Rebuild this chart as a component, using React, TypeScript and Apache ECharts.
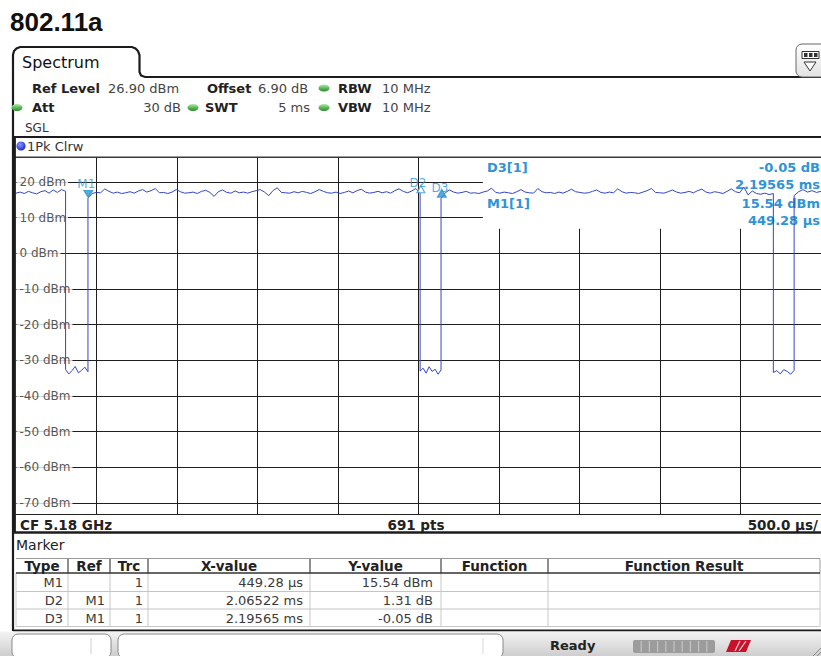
import React, { useEffect, useRef } from "react";
import * as echarts from "echarts";

// ---------- axis values ----------
const SWEEP_START_US = 0;
const SWEEP_END_US = 5000;
const REF_LEVEL_DBM = 26.9;
const BOTTOM_LEVEL_DBM = -73.1;
const xGridUs = [500, 1000, 1500, 2000, 2500, 3000, 3500, 4000, 4500];
const yTickDbm = [20, 10, 0, -10, -20, -30, -40, -50, -60, -70];

// the marker-info box hides the grid right of this time and above this level
const INFO_BOX_LEFT_US = 2900;
const INFO_BOX_BOTTOM_DBM = 6.9;

// ---------- trace (1Pk Clrw) ----------
// segment edges in µs: burst | gap | burst | gap | burst | gap | burst
const segmentEdgesUs = [0, 308, 447, 2510, 2640, 4704, 4833, 5000];
const burst1 = [16.9, 17.2, 16.8, 17.4, 17.0, 16.7, 17.3, 17.6, 16.9, 17.8, 17.1, 17.9, 17.4];
const gap1 = [-32.6, -33.8, -32.9, -31.7, -33.5, -32.8, -31.9, -33.2];
const burst2 = [
  15.5, 16.8, 17.1, 17.0, 18.1, 17.4, 16.9, 17.2, 16.8, 17.0,
  17.3, 16.9, 17.5, 17.9, 17.2, 17.6, 18.2, 17.0, 17.1, 16.8,
  17.2, 17.9, 17.3, 16.9, 17.0, 17.2, 16.8, 17.4, 17.7, 17.1,
  16.0, 17.3, 17.8, 17.1, 16.9, 17.5, 17.0, 17.2, 16.9, 17.3,
  17.6, 17.9, 17.2, 16.2, 17.6, 18.4, 17.1, 17.0, 16.9, 17.3,
  17.0, 17.4, 17.1, 16.8, 17.3, 17.9, 17.4, 17.0, 16.9, 17.2,
  16.8, 17.1, 17.5, 17.0, 17.6, 18.0, 17.2, 16.9, 17.1, 17.4,
  17.0, 17.3, 16.9, 17.6, 18.1, 17.4, 17.0, 17.5, 18.2, 16.9,
];
const gap2 = [-33.0, -32.2, -33.6, -31.8, -33.1, -32.5, -33.9, -32.7];
const burst3 = [
  15.5, 17.0, 17.8, 17.2, 16.9, 17.1, 17.4, 16.9, 17.0, 16.8,
  17.2, 17.5, 18.3, 17.1, 16.9, 17.2, 17.0, 16.8, 17.3, 17.9,
  17.2, 17.0, 16.9, 18.2, 17.3, 17.0, 17.1, 16.8, 17.2, 16.9,
  17.4, 18.0, 17.3, 17.1, 16.9, 17.0, 17.4, 17.8, 17.1, 16.9,
  17.2, 17.0, 18.1, 17.3, 16.9, 17.1, 17.0, 16.8, 17.2, 17.6,
  18.2, 17.1, 17.0, 16.9, 17.3, 17.8, 17.2, 16.9, 17.1, 17.4,
  17.0, 17.6, 18.0, 17.2, 16.9, 17.3, 17.1, 16.8, 17.4, 18.1,
  17.3, 17.0, 18.6, 16.4, 17.5, 16.8, 16.6, 16.9, 16.5, 16.8,
];
const gap3 = [-33.4, -32.9, -33.8, -32.6, -33.1, -33.9, -32.8];
const burst4 = [16.2, 17.3, 17.9, 17.2, 17.6, 17.1, 17.4];
const traceSegments = [burst1, gap1, burst2, gap2, burst3, gap3, burst4];

// ---------- markers ----------
const markerType = ["M1", "D2", "D3"];
const markerRef = ["", "M1", "M1"];
const markerTrc = ["1", "1", "1"];
const markerXText = ["449.28 µs", "2.06522 ms", "2.19565 ms"];
const markerYText = ["15.54 dBm", "1.31 dB", "-0.05 dB"];
const m1XUs = 449.28;
const m1YDbm = 15.54;
const deltaXUs = [0, 2065.22, 2195.65];
const deltaYDb = [0, 1.31, -0.05];
const tableHeader = ["Type", "Ref", "Trc", "X-value", "Y-value", "Function", "Function Result"];

// ---------- build trace points (sweep samples evenly spaced within each segment) ----------
const traceData: number[][] = [];
traceSegments.forEach((vals, k) => {
  const t0 = segmentEdgesUs[k];
  const t1 = segmentEdgesUs[k + 1];
  vals.forEach((v, i) => {
    traceData.push([t0 + (i * (t1 - t0)) / (vals.length - 1), v]);
  });
});

const markerPoints = markerType.map((_, i) => [m1XUs + deltaXUs[i], m1YDbm + deltaYDb[i]]);

// ---------- styling ----------
const F = '"DejaVu Sans", Verdana, sans-serif';
const MARKER_BLUE = "#2e94d6";
const TRACE_BLUE = "#3446c6";
const INK = "#1c1c1c";

function T(text: string, x: number, y: number, font: string, fill = "#222", align = "left", z = 0) {
  return {
    type: "text",
    x,
    y,
    z,
    silent: true,
    style: {
      text,
      x: 0,
      y: 0,
      font,
      fill,
      textAlign: align,
      textVerticalAlign: "middle",
      align,
      verticalAlign: "middle",
    },
  };
}
function L(x1: number, y1: number, x2: number, y2: number, stroke = INK, lineWidth = 1, z = 0) {
  return { type: "line", z, silent: true, shape: { x1, y1, x2, y2 }, style: { stroke, lineWidth } };
}
function greenDot(cx: number, cy: number) {
  return {
    type: "ellipse",
    z: 0,
    silent: true,
    shape: { cx, cy, rx: 5.5, ry: 3.6 },
    style: {
      fill: new echarts.graphic.LinearGradient(0, 0, 0, 1, [
        { offset: 0, color: "#b9ecb3" },
        { offset: 0.5, color: "#5dbb5a" },
        { offset: 1, color: "#2c8a30" },
      ]),
    },
  };
}

function buildGraphic() {
  const els: any[] = [];
  // title
  els.push(T("802.11a", 10, 21.5, 'bold 26px "Liberation Sans", Arial, sans-serif', "#111"));
  // tab + left border + top rule
  els.push({
    type: "polyline",
    z: 0,
    silent: true,
    shape: {
      points: [
        [13, 631], [13, 55], [14, 51], [16.5, 48.5], [20, 47], [132, 47], [135.5, 48.5],
        [138, 51], [139.5, 55], [139.5, 72], [141, 75.5], [145, 77], [821, 77],
      ],
    },
    style: { stroke: INK, lineWidth: 2.2, fill: null },
  });
  // thick left edge of the diagram window (over grid line starts)
  els.push(L(14.6, 137, 14.6, 532, INK, 2.6, 5));
  els.push(T("Spectrum", 22, 62, `16px ${F}`, "#111"));
  // settings rows
  const b13 = `bold 13px ${F}`;
  const r13 = `13px ${F}`;
  els.push(T("Ref Level", 32, 88, b13, "#222"));
  els.push(T("26.90 dBm", 108, 88, r13, "#444"));
  els.push(T("Offset", 207, 88, b13, "#222"));
  els.push(T("6.90 dB", 258, 88, r13, "#444"));
  els.push(greenDot(324, 88));
  els.push(T("RBW", 338, 88, b13, "#222"));
  els.push(T("10 MHz", 382, 88, r13, "#444"));
  els.push(greenDot(17, 107.5));
  els.push(T("Att", 32, 107.5, b13, "#222"));
  els.push(T("30 dB", 181, 107.5, r13, "#444", "right"));
  els.push(greenDot(193, 107.5));
  els.push(T("SWT", 205, 107.5, b13, "#222"));
  els.push(T("5 ms", 310, 107.5, r13, "#444", "right"));
  els.push(greenDot(324, 107.5));
  els.push(T("VBW", 338, 107.5, b13, "#222"));
  els.push(T("10 MHz", 382, 107.5, r13, "#444"));
  els.push(T("SGL", 25, 127.5, `12px ${F}`, "#333"));
  // trace header row
  els.push(L(13, 137, 821, 137, INK, 2));
  els.push({
    type: "circle",
    z: 0,
    silent: true,
    shape: { cx: 21, cy: 146, r: 4.6 },
    style: {
      fill: new echarts.graphic.RadialGradient(0.4, 0.35, 0.7, [
        { offset: 0, color: "#8a95ff" },
        { offset: 1, color: "#1425c8" },
      ]),
    },
  });
  els.push(T("1Pk Clrw", 27, 146, r13, "#333"));
  els.push(L(13, 157.3, 821, 157.3, "#3a3a3a", 1.4));
  // top-right icon
  els.push({
    type: "rect",
    z: 0,
    silent: true,
    shape: { x: 796, y: 44, width: 34, height: 33, r: 6 },
    style: {
      fill: new echarts.graphic.LinearGradient(0, 0, 0, 1, [
        { offset: 0, color: "#ffffff" },
        { offset: 1, color: "#e2e2e2" },
      ]),
      stroke: "#666",
      lineWidth: 1,
    },
  });
  els.push({ type: "rect", z: 0, silent: true, shape: { x: 802, y: 51.5, width: 17, height: 7 }, style: { fill: "#fff", stroke: "#333", lineWidth: 1 } });
  [804, 809, 814].forEach((x) =>
    els.push({ type: "rect", z: 0, silent: true, shape: { x, y: 53, width: 3.5, height: 4 }, style: { fill: "#333" } })
  );
  els.push({
    type: "polygon",
    z: 0,
    silent: true,
    shape: { points: [[804, 62], [816, 62], [810, 71]] },
    style: { fill: "#fff", stroke: "#333", lineWidth: 1 },
  });
  // marker info box texts
  const b13m = `bold 13px ${F}`;
  const infoRight = 820;
  els.push(T(`${markerType[2]}[1]`, 487, 167, b13m, MARKER_BLUE));
  els.push(T(markerYText[2], infoRight, 167, b13m, MARKER_BLUE, "right"));
  els.push(T(markerXText[2], infoRight, 184, b13m, MARKER_BLUE, "right"));
  els.push(T(`${markerType[0]}[1]`, 487, 203, b13m, MARKER_BLUE));
  els.push(T(markerYText[0], infoRight, 203, b13m, MARKER_BLUE, "right"));
  els.push(T(markerXText[0], infoRight, 220, b13m, MARKER_BLUE, "right"));
  // bottom bar
  const b135 = `bold 13.5px ${F}`;
  els.push(T("CF 5.18 GHz", 20, 524.5, b135, "#222"));
  els.push(T("691 pts", 416, 524.5, b135, "#222", "center"));
  els.push(T("500.0 µs/", 818, 524.5, b135, "#222", "right"));
  els.push(L(13, 532.5, 821, 532.5, INK, 2.4));
  // marker table
  els.push(T("Marker", 16, 545, `14px ${F}`, "#222"));
  const colX = [16, 68, 110, 148, 310, 441, 548, 820];
  const rowY = [573, 591.5, 609, 626.5];
  els.push(L(16, 558.5, 820, 558.5, "#9a9a9a", 1));
  rowY.slice(1).forEach((y) => els.push(L(16, y, 820, y, "#c4c4c4", 1)));
  colX.forEach((x, i) => {
    if (i > 0 && i < colX.length - 1) els.push(L(x, 559, x, 573, "#444", 1.2));
    els.push(L(x, 573, x, 626.5, "#c8c8c8", 1));
  });
  els.push(L(820, 559, 820, 573, "#999", 1));
  els.push(L(16, 573, 820, 573, "#333", 1.6));
  tableHeader.forEach((h, i) => {
    els.push(T(h, (colX[i] + colX[i + 1]) / 2, 565.5, b135, "#222", "center"));
  });
  const rowMid = [582.5, 600.5, 618];
  const pad = [5, 5, 5, 7, 8];
  markerType.forEach((_, r) => {
    const cells = [markerType[r], markerRef[r], markerTrc[r], markerXText[r], markerYText[r]];
    cells.forEach((c, i) => {
      if (c) els.push(T(c, colX[i + 1] - pad[i], rowMid[r], `13px ${F}`, "#3a3a3a", "right"));
    });
  });
  els.push(L(13, 630.5, 821, 630.5, INK, 2.2));
  // status bar
  els.push({
    type: "rect",
    z: 0,
    silent: true,
    shape: { x: 0, y: 631.6, width: 821, height: 25 },
    style: {
      fill: new echarts.graphic.LinearGradient(0, 0, 0, 1, [
        { offset: 0, color: "#f3f3f3" },
        { offset: 1, color: "#cdcdcd" },
      ]),
    },
  });
  els.push({ type: "rect", z: 0, silent: true, shape: { x: 12, y: 634, width: 99, height: 24, r: 6 }, style: { fill: "#fff", stroke: "#8a8a8a", lineWidth: 1 } });
  els.push(L(91, 638, 91, 654, "#d0d0d0", 1));
  els.push({ type: "rect", z: 0, silent: true, shape: { x: 118, y: 634, width: 385, height: 24, r: 6 }, style: { fill: "#fff", stroke: "#8a8a8a", lineWidth: 1 } });
  els.push(L(483, 638, 483, 654, "#d8d8d8", 1));
  els.push(T("Ready", 550, 645, `bold 13px ${F}`, "#222"));
  els.push({ type: "rect", z: 0, silent: true, shape: { x: 633, y: 640, width: 82, height: 13, r: 2 }, style: { fill: "#9c9c9c" } });
  for (let i = 1; i < 10; i++) {
    const x = 633 + i * 8.2;
    els.push(L(x, 641, x, 652, "#c4c4c4", 1.2));
  }
  els.push({ type: "polygon", z: 0, silent: true, shape: { points: [[726, 652], [731, 640], [751, 640], [746, 652]] }, style: { fill: "#c8122c" } });
  els.push(L(735, 651, 740, 641, "#f4c8cc", 1.3));
  els.push(L(739, 651, 746, 641, "#f4c8cc", 1.3));
  els.push(L(813, 656, 821, 648, "#888", 1));
  els.push(L(817, 656, 821, 652, "#888", 1));
  return els;
}

function buildOption() {
  const hLines = yTickDbm.map((v) => [
    { coord: [SWEEP_START_US, v] },
    { coord: [v > INFO_BOX_BOTTOM_DBM ? INFO_BOX_LEFT_US : SWEEP_END_US, v] },
  ]);
  const vLines = xGridUs.map((t) => [
    { coord: [t, BOTTOM_LEVEL_DBM] },
    { coord: [t, t > INFO_BOX_LEFT_US ? INFO_BOX_BOTTOM_DBM : REF_LEVEL_DBM] },
  ]);

  const markerStyles = [
    { symbolRotate: 180, symbolSize: [9, 7], symbolOffset: [0, -4], fill: MARKER_BLUE, labelOffset: [-2, 0] },
    { symbolRotate: 0, symbolSize: [8, 7], symbolOffset: [0, -4], fill: "#ffffff", labelOffset: [-3, 4] },
    { symbolRotate: 0, symbolSize: [9, 8], symbolOffset: [0, -5], fill: MARKER_BLUE, labelOffset: [-2, 5.5] },
  ];

  return {
    animation: false,
    backgroundColor: "#ffffff",
    tooltip: { show: false },
    grid: { left: 16, top: 157.5, width: 810, height: 356.5, containLabel: false },
    xAxis: {
      type: "value",
      min: SWEEP_START_US,
      max: SWEEP_END_US,
      axisLine: { show: true, onZero: false, lineStyle: { color: "#222", width: 1 } },
      axisTick: { show: false },
      axisLabel: { show: false },
      splitLine: { show: false },
    },
    yAxis: {
      type: "value",
      min: BOTTOM_LEVEL_DBM,
      max: REF_LEVEL_DBM,
      axisLine: { show: false },
      axisTick: { show: false },
      axisLabel: { show: false },
      splitLine: { show: false },
    },
    series: [
      {
        type: "line",
        name: "grid",
        z: 1,
        silent: true,
        data: [],
        markLine: {
          z: 1,
          silent: true,
          animation: false,
          symbol: ["none", "none"],
          label: { show: false },
          emphasis: { disabled: true },
          lineStyle: { color: "#1e1e1e", width: 1, type: "solid" },
          data: [...hLines, ...vLines],
        },
      },
      {
        type: "scatter",
        name: "levels",
        z: 2,
        silent: true,
        symbolSize: 1,
        itemStyle: { color: "transparent" },
        emphasis: { disabled: true },
        data: yTickDbm.map((v) => [SWEEP_START_US, v]),
        label: {
          show: true,
          position: "right",
          distance: 0,
          formatter: (p: any) => `${p.value[1]} dBm`,
          color: "#2a2a2a",
          fontFamily: "DejaVu Sans",
          fontSize: 12,
          backgroundColor: "#ffffff",
          padding: [2, 2, 2, 3],
        },
      },
      {
        type: "line",
        name: "1Pk Clrw",
        z: 3,
        silent: true,
        data: traceData,
        showSymbol: false,
        symbol: "none",
        lineStyle: { color: TRACE_BLUE, width: 1 },
        emphasis: { disabled: true },
      },
      {
        type: "scatter",
        name: "markers",
        z: 4,
        silent: true,
        emphasis: { disabled: true },
        data: markerPoints.map((p, i) => ({
          value: p,
          name: markerType[i],
          symbol: "triangle",
          symbolRotate: markerStyles[i].symbolRotate,
          symbolSize: markerStyles[i].symbolSize,
          symbolOffset: markerStyles[i].symbolOffset,
          itemStyle: { color: markerStyles[i].fill, borderColor: MARKER_BLUE, borderWidth: 1.1 },
          label: {
            show: true,
            position: "top",
            distance: 0,
            offset: markerStyles[i].labelOffset,
            formatter: markerType[i],
            color: MARKER_BLUE,
            fontFamily: "DejaVu Sans",
            fontSize: 12,
          },
        })),
      },
    ],
    graphic: { elements: buildGraphic() },
  };
}

export default function App() {
  const ref = useRef<HTMLDivElement>(null);
  useEffect(() => {
    if (!ref.current) return;
    const chart = echarts.init(ref.current, undefined, { renderer: "svg" });
    chart.setOption(buildOption() as any);
    return () => chart.dispose();
  }, []);
  return (
    <div
      ref={ref}
      style={{ position: "absolute", left: 0, top: 0, width: 821, height: 656, background: "#fff" }}
    />
  );
}
